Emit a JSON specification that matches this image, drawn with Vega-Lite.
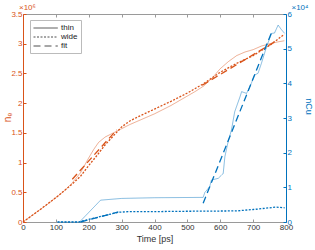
{
  "$schema": "https://vega.github.io/schema/vega-lite/v6.json",
  "width": 263,
  "height": 208,
  "autosize": "none",
  "padding": {"left": 23, "top": 14, "right": 29, "bottom": 28},
  "title": {"text": "×10⁶", "anchor": "start", "frame": "group", "color": "#D95319", "fontSize": 8, "fontWeight": "normal", "offset": -9, "dx": -4, "font": "Liberation Sans"},
  "config": {
    "view": {"stroke": null},
    "font": "Liberation Sans",
    "axis": {"labelFontSize": 8, "titleFontSize": 9, "grid": false, "tickSize": -3, "labelPadding": 4, "titleFontWeight": "normal", "labelOverlap": false, "labelSeparation": 0, "labelBound": false, "labelFlush": false},
    "legend": {"orient": "none", "legendX": 7, "legendY": 6, "title": null, "symbolType": "M-1,0H4.4", "symbolSize": 81, "symbolStrokeColor": "#222222", "symbolStrokeWidth": 0.8, "symbolOpacity": 1, "strokeColor": "#bbbbbb", "fillColor": "white", "padding": 3, "labelFontSize": 8, "rowPadding": 0, "labelOffset": 18, "labelColor": "#222222"}
  },
  "datasets": {
    "ne": [
      {"t": 0, "v": 0, "type": "thin", "seg": "a"},
      {"t": 25, "v": 0.1, "type": "thin", "seg": "a"},
      {"t": 50, "v": 0.2, "type": "thin", "seg": "a"},
      {"t": 75, "v": 0.3, "type": "thin", "seg": "a"},
      {"t": 100, "v": 0.41, "type": "thin", "seg": "a"},
      {"t": 125, "v": 0.52, "type": "thin", "seg": "a"},
      {"t": 150, "v": 0.66, "type": "thin", "seg": "a"},
      {"t": 175, "v": 0.83, "type": "thin", "seg": "a"},
      {"t": 200, "v": 1.08, "type": "thin", "seg": "a"},
      {"t": 215, "v": 1.22, "type": "thin", "seg": "a"},
      {"t": 230, "v": 1.34, "type": "thin", "seg": "a"},
      {"t": 250, "v": 1.43, "type": "thin", "seg": "a"},
      {"t": 275, "v": 1.5, "type": "thin", "seg": "a"},
      {"t": 300, "v": 1.57, "type": "thin", "seg": "a"},
      {"t": 325, "v": 1.64, "type": "thin", "seg": "a"},
      {"t": 350, "v": 1.7, "type": "thin", "seg": "a"},
      {"t": 400, "v": 1.82, "type": "thin", "seg": "a"},
      {"t": 450, "v": 1.96, "type": "thin", "seg": "a"},
      {"t": 500, "v": 2.12, "type": "thin", "seg": "a"},
      {"t": 525, "v": 2.2, "type": "thin", "seg": "a"},
      {"t": 550, "v": 2.29, "type": "thin", "seg": "a"},
      {"t": 575, "v": 2.42, "type": "thin", "seg": "a"},
      {"t": 600, "v": 2.58, "type": "thin", "seg": "a"},
      {"t": 625, "v": 2.7, "type": "thin", "seg": "a"},
      {"t": 650, "v": 2.8, "type": "thin", "seg": "a"},
      {"t": 675, "v": 2.86, "type": "thin", "seg": "a"},
      {"t": 700, "v": 2.9, "type": "thin", "seg": "a"},
      {"t": 725, "v": 2.96, "type": "thin", "seg": "a"},
      {"t": 750, "v": 3.0, "type": "thin", "seg": "a"},
      {"t": 775, "v": 3.03, "type": "thin", "seg": "a"},
      {"t": 795, "v": 3.05, "type": "thin", "seg": "a"},
      {"t": 0, "v": 0, "type": "wide", "seg": "a"},
      {"t": 50, "v": 0.2, "type": "wide", "seg": "a"},
      {"t": 100, "v": 0.41, "type": "wide", "seg": "a"},
      {"t": 150, "v": 0.64, "type": "wide", "seg": "a"},
      {"t": 175, "v": 0.77, "type": "wide", "seg": "a"},
      {"t": 200, "v": 0.95, "type": "wide", "seg": "a"},
      {"t": 225, "v": 1.12, "type": "wide", "seg": "a"},
      {"t": 250, "v": 1.3, "type": "wide", "seg": "a"},
      {"t": 275, "v": 1.45, "type": "wide", "seg": "a"},
      {"t": 300, "v": 1.6, "type": "wide", "seg": "a"},
      {"t": 325, "v": 1.7, "type": "wide", "seg": "a"},
      {"t": 350, "v": 1.77, "type": "wide", "seg": "a"},
      {"t": 400, "v": 1.9, "type": "wide", "seg": "a"},
      {"t": 450, "v": 2.03, "type": "wide", "seg": "a"},
      {"t": 500, "v": 2.17, "type": "wide", "seg": "a"},
      {"t": 550, "v": 2.33, "type": "wide", "seg": "a"},
      {"t": 600, "v": 2.52, "type": "wide", "seg": "a"},
      {"t": 650, "v": 2.67, "type": "wide", "seg": "a"},
      {"t": 700, "v": 2.8, "type": "wide", "seg": "a"},
      {"t": 750, "v": 2.97, "type": "wide", "seg": "a"},
      {"t": 795, "v": 3.16, "type": "wide", "seg": "a"},
      {"t": 150, "v": 0.72, "type": "fit", "seg": "a"},
      {"t": 285, "v": 1.55, "type": "fit", "seg": "a"},
      {"t": 545, "v": 2.3, "type": "fit", "seg": "b"},
      {"t": 765, "v": 3.03, "type": "fit", "seg": "b"}
    ],
    "cu": [
      {"t": 105, "v": 0, "type": "thin", "seg": "a"},
      {"t": 172, "v": 0, "type": "thin", "seg": "a"},
      {"t": 236, "v": 0.63, "type": "thin", "seg": "a"},
      {"t": 300, "v": 0.68, "type": "thin", "seg": "a"},
      {"t": 400, "v": 0.7, "type": "thin", "seg": "a"},
      {"t": 548, "v": 0.71, "type": "thin", "seg": "a"},
      {"t": 553, "v": 0.85, "type": "thin", "seg": "a"},
      {"t": 568, "v": 1.02, "type": "thin", "seg": "a"},
      {"t": 573, "v": 1.21, "type": "thin", "seg": "a"},
      {"t": 594, "v": 1.26, "type": "thin", "seg": "a"},
      {"t": 609, "v": 1.4, "type": "thin", "seg": "a"},
      {"t": 614, "v": 1.88, "type": "thin", "seg": "a"},
      {"t": 624, "v": 2.32, "type": "thin", "seg": "a"},
      {"t": 634, "v": 2.65, "type": "thin", "seg": "a"},
      {"t": 644, "v": 3.18, "type": "thin", "seg": "a"},
      {"t": 660, "v": 3.61, "type": "thin", "seg": "a"},
      {"t": 665, "v": 3.76, "type": "thin", "seg": "a"},
      {"t": 680, "v": 3.71, "type": "thin", "seg": "a"},
      {"t": 690, "v": 3.9, "type": "thin", "seg": "a"},
      {"t": 705, "v": 4.24, "type": "thin", "seg": "a"},
      {"t": 715, "v": 4.29, "type": "thin", "seg": "a"},
      {"t": 725, "v": 4.57, "type": "thin", "seg": "a"},
      {"t": 741, "v": 5.06, "type": "thin", "seg": "a"},
      {"t": 756, "v": 5.44, "type": "thin", "seg": "a"},
      {"t": 765, "v": 5.45, "type": "thin", "seg": "a"},
      {"t": 776, "v": 5.68, "type": "thin", "seg": "a"},
      {"t": 786, "v": 5.55, "type": "thin", "seg": "a"},
      {"t": 796, "v": 5.44, "type": "thin", "seg": "a"},
      {"t": 105, "v": 0, "type": "wide", "seg": "a"},
      {"t": 170, "v": 0, "type": "wide", "seg": "a"},
      {"t": 190, "v": 0.05, "type": "wide", "seg": "a"},
      {"t": 250, "v": 0.19, "type": "wide", "seg": "a"},
      {"t": 290, "v": 0.28, "type": "wide", "seg": "a"},
      {"t": 320, "v": 0.3, "type": "wide", "seg": "a"},
      {"t": 400, "v": 0.3, "type": "wide", "seg": "a"},
      {"t": 500, "v": 0.31, "type": "wide", "seg": "a"},
      {"t": 650, "v": 0.32, "type": "wide", "seg": "a"},
      {"t": 700, "v": 0.36, "type": "wide", "seg": "a"},
      {"t": 750, "v": 0.41, "type": "wide", "seg": "a"},
      {"t": 770, "v": 0.43, "type": "wide", "seg": "a"},
      {"t": 796, "v": 0.41, "type": "wide", "seg": "a"},
      {"t": 175, "v": 0, "type": "fit", "seg": "a"},
      {"t": 290, "v": 0.29, "type": "fit", "seg": "a"},
      {"t": 548, "v": 0.54, "type": "fit", "seg": "b"},
      {"t": 757, "v": 5.49, "type": "fit", "seg": "b"}
    ]
  },
  "layer": [
    {
      "data": {"name": "ne"},
      "mark": {"type": "line", "color": "#D95319"},
      "encoding": {
        "x": {"field": "t", "type": "quantitative", "scale": {"domain": [0, 800], "nice": false},
          "axis": {"orient": "bottom", "title": "Time [ps]", "format": "d", "values": [0,100,200,300,400,500,600,700,800], "domainColor": "#9a9a9a", "tickColor": "#9a9a9a", "labelColor": "#333333", "titleColor": "#333333", "titlePadding": 3, "labelOverlap": false}},
        "y": {"field": "v", "type": "quantitative", "scale": {"domain": [0, 3.5], "nice": false},
          "axis": {"orient": "left", "title": "nₑ", "format": "~r", "values": [0,0.5,1,1.5,2,2.5,3,3.5], "domainColor": "#D95319", "tickColor": "#D95319", "labelColor": "#D95319", "titleColor": "#D95319", "titleX": -11, "titleY": 103, "titleFontSize": 10, "labelOverlap": false}},
        "strokeDash": {"field": "type", "type": "nominal",
          "scale": {"domain": ["thin", "wide", "fit"], "range": [[1, 0], [2, 1.5], [7, 4]]},
          "legend": {"encode": {"symbols": {"update": {"stroke": {"value": "#222222"}, "opacity": {"value": 1}, "strokeWidth": {"value": 0.8}}}}}},
        "size": {"condition": {"test": "datum.type === 'thin'", "value": 0.6}, "value": 1.3},
        "opacity": {"condition": {"test": "datum.type === 'thin'", "value": 0.8}, "value": 1},
        "detail": {"field": "seg"}
      }
    },
    {
      "data": {"name": "cu"},
      "mark": {"type": "line", "color": "#0072BD"},
      "encoding": {
        "x": {"field": "t", "type": "quantitative", "scale": {"domain": [0, 800], "nice": false},
          "axis": {"orient": "top", "title": "×10⁴", "titleColor": "#0072BD", "titleFontSize": 8, "titleAnchor": "end", "titleAlign": "left", "titleX": 268, "titleY": -3, "titleBaseline": "bottom", "labels": false, "values": [0,100,200,300,400,500,600,700,800], "domainColor": "#9a9a9a", "tickColor": "#9a9a9a"}},
        "y": {"field": "v", "type": "quantitative", "scale": {"domain": [0, 6], "nice": false},
          "axis": {"orient": "right", "title": "nCu", "format": "d", "titleAngle": 90, "values": [0,1,2,3,4,5,6], "domainColor": "#0072BD", "tickColor": "#0072BD", "labelColor": "#0072BD", "titleColor": "#0072BD", "titleX": 17, "titleY": 92, "labelOverlap": false}},
        "strokeDash": {"field": "type", "type": "nominal",
          "legend": {"encode": {"symbols": {"update": {"stroke": {"value": "#222222"}, "opacity": {"value": 1}, "strokeWidth": {"value": 0.8}}}}}},
        "size": {"condition": {"test": "datum.type === 'thin'", "value": 0.6}, "value": 1.3},
        "opacity": {"condition": {"test": "datum.type === 'thin'", "value": 0.8}, "value": 1},
        "detail": {"field": "seg"}
      }
    }
  ],
  "resolve": {"scale": {"y": "independent"}, "axis": {"x": "independent"}}
}
